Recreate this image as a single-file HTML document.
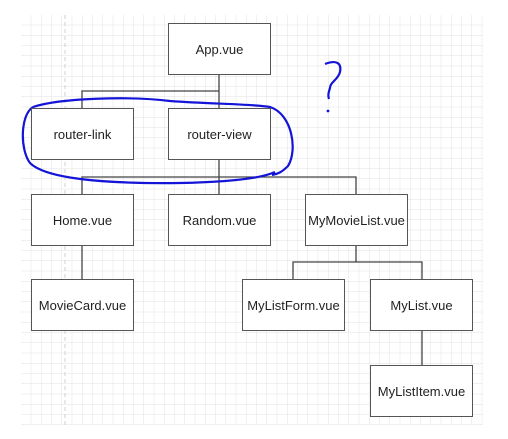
<!DOCTYPE html>
<html><head><style>
body{margin:0;width:508px;height:439px;background:#fff;overflow:hidden}
.b{position:absolute;border:1.5px solid #555;background:#fff;box-sizing:border-box;width:103px;height:52px;display:flex;align-items:center;justify-content:center;font:13px "Liberation Sans",sans-serif;color:#222}
</style></head><body>
<svg width="508" height="439" style="position:absolute;left:0;top:0">
<defs><pattern id="g" x="21" y="15" width="10.25" height="10.25" patternUnits="userSpaceOnUse"><path d="M10.25 0V10.25H0" fill="none" stroke="#e2e2e2" stroke-width="1"/></pattern></defs>
<rect x="21" y="15" width="462" height="410" fill="url(#g)"/>
<line x1="65" y1="15" x2="65" y2="425" stroke="#d0d0d0" stroke-dasharray="4,3"/>
<g stroke="#444" stroke-width="1.3" fill="none">
<path d="M219 74V91H82V108M219 91V108"/>
<path d="M219 159V177H82V194M219 177V194M82 177H356V194"/>
<path d="M82 245V279"/>
<path d="M356 245V262H293V279M356 262H422V279"/>
<path d="M422 330V365"/>
</g>
<path d="M33 107C20 115 20 150 30 163C45 178 100 184 180 183C230 182 262 178 275 172M33 107C60 98 130 96 170 101C210 104 255 104 270 107C292 114 298 150 288 166C282 172 278 174 272 175" fill="none" stroke="#1414d8" stroke-width="2.2"/>
<path d="M325 64C335 60 342 62 340 72C338 80 330 82 330 88C328 94 328 96 329 99" fill="none" stroke="#1414d8" stroke-width="2.2"/>
<circle cx="328" cy="111" r="1.4" fill="#1414d8"/>
</svg>
<div class="b" style="left:168px;top:23px">App.vue</div>
<div class="b" style="left:31px;top:108px">router-link</div>
<div class="b" style="left:168px;top:108px">router-view</div>
<div class="b" style="left:31px;top:194px">Home.vue</div>
<div class="b" style="left:168px;top:194px">Random.vue</div>
<div class="b" style="left:305px;top:194px">MyMovieList.vue</div>
<div class="b" style="left:31px;top:279px">MovieCard.vue</div>
<div class="b" style="left:242px;top:279px">MyListForm.vue</div>
<div class="b" style="left:370px;top:279px">MyList.vue</div>
<div class="b" style="left:370px;top:365px">MyListItem.vue</div>
</body></html>
